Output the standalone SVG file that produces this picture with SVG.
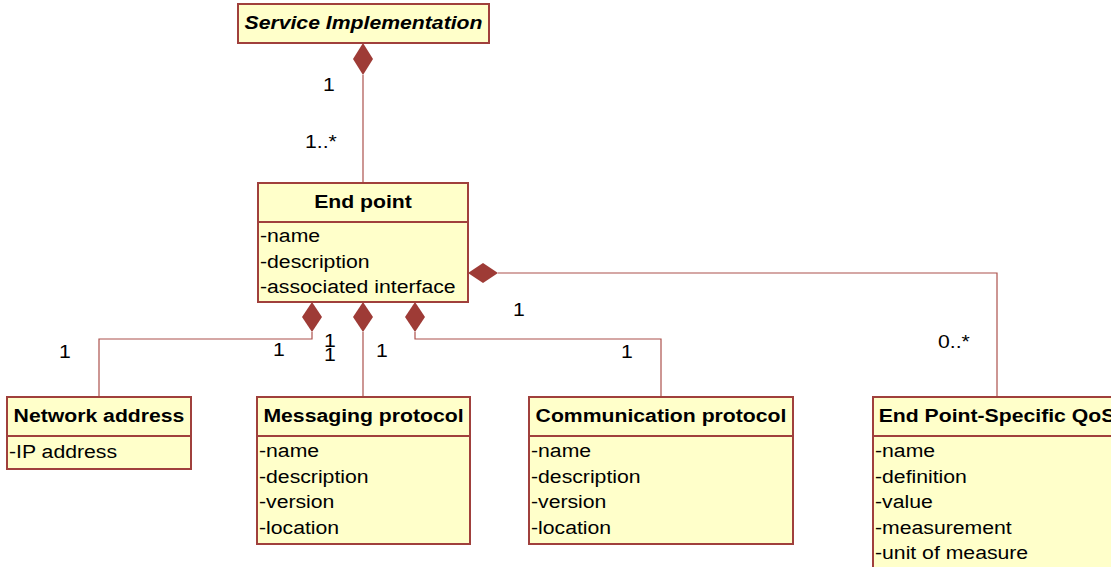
<svg xmlns="http://www.w3.org/2000/svg" width="1111" height="567" viewBox="0 0 1111 567">
<style>
.box{fill:#FFFFCA;stroke:#A0403C;stroke-width:2}
.div{stroke:#A0403C;stroke-width:2}
.con{fill:none;stroke:#AC514C;stroke-width:1.2}
.dia{fill:#9E3B36;stroke:none}
text{font-family:"Liberation Sans",Arial,sans-serif;font-size:19px;fill:#000}
.ttl{font-weight:bold;text-anchor:middle}
.it{font-style:italic}
</style>
<rect width="1111" height="567" fill="#FFFFFF"/>
<g id="connectors">
<path class="con" d="M363,75 V183"/>
<polygon class="dia" points="363,43 373,59 363,75 353,59"/>
<path class="con" d="M498,273 H997 V397"/>
<polygon class="dia" points="468,273 483,263 498,273 483,283"/>
<path class="con" d="M312,332 V339 H99 V397"/>
<polygon class="dia" points="312,302 322,317 312,332 302,317"/>
<path class="con" d="M363,332 V397"/>
<polygon class="dia" points="363,302 373,317 363,332 353,317"/>
<path class="con" d="M415,332 V339 H661 V397"/>
<polygon class="dia" points="415,302 425,317 415,332 405,317"/>
<text transform="translate(323,91) scale(1.116,1)">1</text>
<text transform="translate(305,148) scale(1.116,1)">1..*</text>
<text transform="translate(513,316) scale(1.116,1)">1</text>
<text transform="translate(938,348) scale(1.116,1)">0..*</text>
<text transform="translate(59,358) scale(1.116,1)">1</text>
<text transform="translate(273,356) scale(1.116,1)">1</text>
<text transform="translate(324,347) scale(1.116,1)">1</text>
<text transform="translate(324,361) scale(1.116,1)">1</text>
<text transform="translate(376,357) scale(1.116,1)">1</text>
<text transform="translate(621,358) scale(1.116,1)">1</text>
</g>
<g id="service-implementation">
<rect class="box" x="238" y="4" width="251" height="39"/>
<text class="ttl it" transform="translate(363.5,29) scale(1.116,1)">Service Implementation</text>
</g>
<g id="end-point">
<rect class="box" x="258" y="183" width="210" height="119"/>
<line class="div" x1="258" y1="222" x2="468" y2="222"/>
<text class="ttl" transform="translate(363,208) scale(1.116,1)">End point</text>
<text transform="translate(260,242) scale(1.116,1)">-name</text>
<text transform="translate(260,267.5) scale(1.116,1)">-description</text>
<text transform="translate(260,293) scale(1.116,1)">-associated interface</text>
</g>
<g id="network-address">
<rect class="box" x="7" y="397" width="184" height="72"/>
<line class="div" x1="7" y1="436" x2="191" y2="436"/>
<text class="ttl" transform="translate(99,422) scale(1.116,1)">Network address</text>
<text transform="translate(9,458) scale(1.116,1)">-IP address</text>
</g>
<g id="messaging-protocol">
<rect class="box" x="257" y="397" width="213" height="147"/>
<line class="div" x1="257" y1="436" x2="470" y2="436"/>
<text class="ttl" transform="translate(363.5,422) scale(1.116,1)">Messaging protocol</text>
<text transform="translate(259,457) scale(1.116,1)">-name</text>
<text transform="translate(259,482.5) scale(1.116,1)">-description</text>
<text transform="translate(259,508) scale(1.116,1)">-version</text>
<text transform="translate(259,533.5) scale(1.116,1)">-location</text>
</g>
<g id="communication-protocol">
<rect class="box" x="529" y="397" width="264" height="147"/>
<line class="div" x1="529" y1="436" x2="793" y2="436"/>
<text class="ttl" transform="translate(661,422) scale(1.116,1)">Communication protocol</text>
<text transform="translate(531,457) scale(1.116,1)">-name</text>
<text transform="translate(531,482.5) scale(1.116,1)">-description</text>
<text transform="translate(531,508) scale(1.116,1)">-version</text>
<text transform="translate(531,533.5) scale(1.116,1)">-location</text>
</g>
<g id="end-point-specific-qos">
<rect class="box" x="873" y="397" width="248" height="180"/>
<line class="div" x1="873" y1="436" x2="1121" y2="436"/>
<text class="ttl" transform="translate(997,422) scale(1.116,1)">End Point-Specific QoS</text>
<text transform="translate(875,457) scale(1.116,1)">-name</text>
<text transform="translate(875,482.5) scale(1.116,1)">-definition</text>
<text transform="translate(875,508) scale(1.116,1)">-value</text>
<text transform="translate(875,533.5) scale(1.116,1)">-measurement</text>
<text transform="translate(875,559) scale(1.116,1)">-unit of measure</text>
</g>
</svg>
